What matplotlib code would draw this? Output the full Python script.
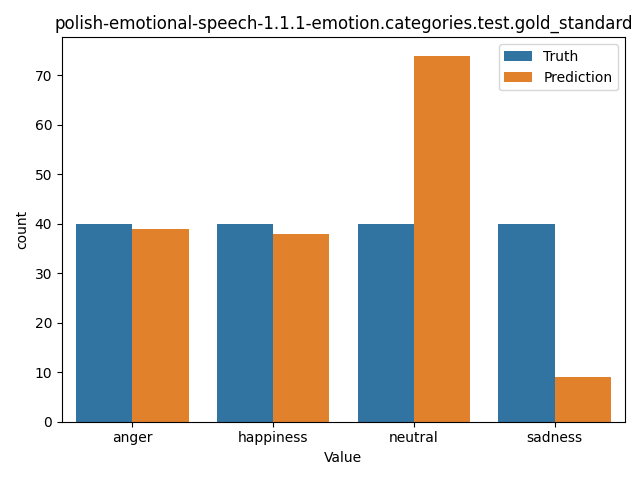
import matplotlib
matplotlib.use("Agg")
import matplotlib.pyplot as plt
import numpy as np

categories = ["anger", "happiness", "neutral", "sadness"]
truth = [40, 40, 40, 40]
prediction = [39, 38, 74, 9]
series_names = ["Truth", "Prediction"]
colors = ["#3274a1", "#e1812c"]

fig, ax = plt.subplots(figsize=(6.4, 4.8), dpi=100)
x = np.arange(len(categories))
w = 0.4
ax.bar(x - w/2, truth, width=w, color=colors[0], label=series_names[0])
ax.bar(x + w/2, prediction, width=w, color=colors[1], label=series_names[1])
ax.set_xticks(x)
ax.set_xticklabels(categories)
ax.set_xlim(-0.5, len(categories) - 0.5)
ax.set_xlabel("Value")
ax.set_ylabel("count")
ax.set_title("polish-emotional-speech-1.1.1-emotion.categories.test.gold_standard")
ax.legend(loc="upper right")
fig.tight_layout()
fig.savefig("out.png")
